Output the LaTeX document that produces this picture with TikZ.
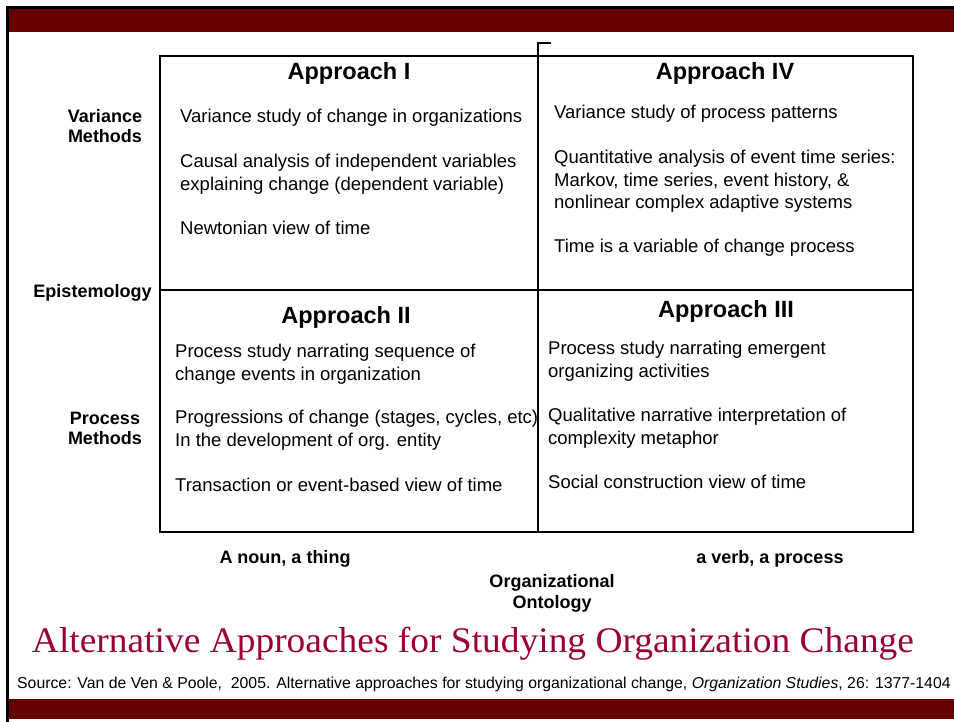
\documentclass[tikz,border=0pt]{standalone}
\usepackage{fontspec}
\setmainfont{Liberation Sans}
\newfontfamily\serifttl{Liberation Serif}
\definecolor{barred}{RGB}{102,0,0}
\definecolor{ttlred}{RGB}{153,0,51}
\begin{document}
\begin{tikzpicture}[x=1pt,y=-1pt,
  body/.style={anchor=base west, inner sep=0pt, font=\fontsize{18.5}{22}\selectfont},
  head/.style={anchor=base, inner sep=0pt, font=\fontsize{23.5}{28}\selectfont\bfseries},
  lab/.style={anchor=base, inner sep=0pt, font=\fontsize{18}{21}\selectfont\bfseries},
  gridline/.style={line width=1.1pt, black},
  bar/.style={fill=barred}]
\useasboundingbox (0,0) rectangle (954,722);
\fill[white] (0,0) rectangle (954,722);
% frame and bars
\fill[black] (7,6) rectangle (954,9);
\fill[black] (6,6) rectangle (9,722);
\fill[bar] (9,9) rectangle (954,32);
\fill[bar] (9,699) rectangle (954,719);
% grid
\draw[gridline] (160,56) rectangle (913,532);
\coordinate (hooktop) at (538,43);
\coordinate (hookend) at (551,43);
\coordinate (midbot) at (538,532);
\coordinate (hleft) at (160,290);
\coordinate (hright) at (913,290);
\draw[gridline] (hookend) -- (hooktop) -- (midbot);
\draw[gridline] (hleft) -- (hright);
% headings
\node[head] (h1) at (349,79.5) {Approach I};
\node[head] (h4) at (725,80) {Approach IV};
\node[head] (h2) at (346,323.5) {Approach II};
\node[head] (h3) at (726,317.5) {Approach III};
% quadrant I
\node[body] (q1a) at (180,122.5) {Variance study of change in organizations};
\node[body] (q1b) at (180,167.5) {Causal analysis of independent variables};
\node[body] (q1c) at (180,190.5) {explaining change (dependent variable)};
\node[body] (q1d) at (180,234.5) {Newtonian view of time};
% quadrant IV
\node[body] (q4a) at (554,119) {Variance study of process patterns};
\node[body] (q4b) at (554,164) {Quantitative analysis of event time series:};
\node[body] (q4c) at (554,186.5) {Markov, time series, event history, \&};
\node[body] (q4d) at (554,209) {nonlinear complex adaptive systems};
\node[body] (q4e) at (554,253) {Time is a variable of change process};
% quadrant II
\node[body] (q2a) at (175,357.5) {Process study narrating sequence of};
\node[body] (q2b) at (175,380.5) {change events in organization};
\node[body] (q2c) at (175,423.5) {Progressions of change (stages, cycles, etc)};
\node[body] (q2d) at (175,446.5) {In the development of org. entity};
\node[body] (q2e) at (175,491.5) {Transaction or event-based view of time};
% quadrant III
\node[body] (q3a) at (548,354.5) {Process study narrating emergent};
\node[body] (q3b) at (548,377.5) {organizing activities};
\node[body] (q3c) at (548,421.5) {Qualitative narrative interpretation of};
\node[body] (q3d) at (548,444.5) {complexity metaphor};
\node[body] (q3e) at (548,488.5) {Social construction view of time};
% left labels
\node[lab] (vm1) at (105,122.5) {Variance};
\node[lab] (vm2) at (105,142.5) {Methods};
\node[lab] (epi) at (92.5,297.5) {Epistemology};
\node[lab] (pm1) at (105,424.5) {Process};
\node[lab] (pm2) at (105,444.5) {Methods};
% bottom labels
\node[lab] (noun) at (285,563.5) {A noun, a thing};
\node[lab] (verb) at (770,563.5) {a verb, a process};
\node[lab] (ont1) at (552,587.5) {Organizational};
\node[lab] (ont2) at (552,608.5) {Ontology};
% title and source
\node[anchor=base, inner sep=0pt, text=ttlred, font=\serifttl\fontsize{36}{42}\selectfont] (title) at (473,652.5) {\scalebox{1.04}[1]{Alternative Approaches for Studying Organization Change}};
\node[anchor=base west, inner sep=0pt, font=\fontsize{15.8}{18}\selectfont] (src) at (17,688.5) {Source: Van de Ven \& Poole,\ \ 2005. Alternative approaches for studying organizational change, \textit{Organization Studies}, 26: 1377-1404};
\end{tikzpicture}
\end{document}
